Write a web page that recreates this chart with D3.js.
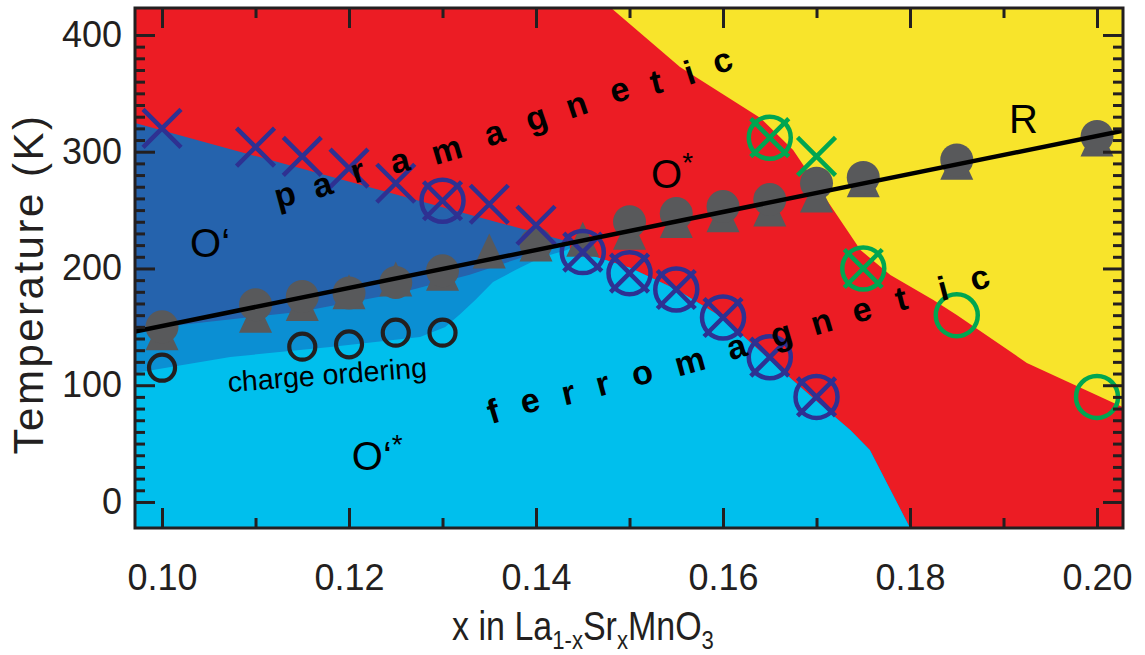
<!DOCTYPE html>
<html>
<head>
<meta charset="utf-8">
<script src="https://cdn.jsdelivr.net/npm/d3@7"></script>
<style>
  body { margin: 0; background: #fff; }
  svg { display: block; font-family: "Liberation Sans", Arial, Helvetica, sans-serif; }
</style>
</head>
<body>
<svg id="chart" width="1145" height="655"></svg>
<script>
// ---- data: x in La(1-x)Sr(x)MnO3 vs temperature (K) ----
const xTicks = [0.10, 0.12, 0.14, 0.16, 0.18, 0.20];
const xMinorTicks = [0.11, 0.13, 0.15, 0.17, 0.19];
const tTicks = [0, 100, 200, 300, 400];

// gray filled circles (upper part of the "bell" symbols)
const grayCircleX = [0.10, 0.11, 0.115, 0.12, 0.125, 0.13, 0.14, 0.15, 0.155, 0.16, 0.165, 0.17, 0.175, 0.185, 0.20];
const grayCircleT = [150, 169, 176, 179, 188, 198, 221, 240, 247, 253, 259, 273, 278, 293, 313];

// gray filled triangles (lower part of the "bell" symbols)
const grayTriX = [0.10, 0.11, 0.115, 0.12, 0.125, 0.13, 0.135, 0.14, 0.145, 0.15, 0.155, 0.16, 0.165, 0.17, 0.175, 0.185, 0.20];
const grayTriT = [140, 155, 165, 175, 186, 191, 210, 216, 220, 226, 236, 241, 246, 258, 271, 286, 306];

// blue crosses
const blueCrossX = [0.10, 0.11, 0.115, 0.12, 0.125, 0.135, 0.14];
const blueCrossT = [320, 304, 296, 286, 273, 255, 237];

// blue crossed circles
const blueCrossCircleX = [0.13, 0.145, 0.15, 0.155, 0.16, 0.165, 0.17];
const blueCrossCircleT = [258, 214, 196, 182, 158, 124, 90];

// green symbols
const greenCrossCircleX = [0.165, 0.175];
const greenCrossCircleT = [312, 200];
const greenCrossX = [0.17];
const greenCrossT = [296];
const greenCircleX = [0.185, 0.20];
const greenCircleT = [160, 90];

// black open circles (charge ordering)
const coCircleX = [0.10, 0.115, 0.12, 0.125, 0.13];
const coCircleT = [115, 133, 135, 145, 145];

// linear fit line (endpoints at the frame)
const fitX = [0.09711, 0.20278];
const fitT = [146, 318];

// phase boundaries [x, T]
const yellowBoundary = [
  [0.1479, 424], [0.1554, 372.6], [0.1640, 328.9], [0.1675, 301.5], [0.1711, 258.7],
  [0.1747, 215.8], [0.1779, 194.4], [0.1825, 173.0], [0.1850, 160.2], [0.1925, 119.1], [0.2028, 81]
];
const darkBlueTop = [[0.0971, 324.6], [0.1436, 222.7]];
const mediumBlueTop = [
  [0.0971, 147.3], [0.1148, 163.0], [0.1255, 179.2], [0.1329, 194.6], [0.1394, 211.8], [0.1436, 222.1]
];
const lightBlueTop = [
  [0.0971, 110.5], [0.1073, 124.2], [0.1180, 132.8], [0.1276, 141.3], [0.1303, 149.9],
  [0.1319, 161.0], [0.1335, 173.0], [0.1354, 188.4], [0.1378, 198.7], [0.1404, 209.0], [0.1433, 215.8]
];
const lightBlueRight = [
  [0.1436, 217], [0.1501, 200.4], [0.1551, 181.6], [0.1600, 157.6], [0.1650, 121.6],
  [0.1701, 85.7], [0.1736, 61.7], [0.1757, 44.5], [0.1800, -22.3]
];

// text annotations
const paraLetters = "paramagnetic".split("");
const paraX = [0.1132, 0.1172, 0.1210, 0.1255, 0.1305, 0.1356, 0.1401, 0.1444, 0.1490, 0.1529, 0.1565, 0.1600];
const paraT = [261.2, 269.8, 281.8, 290.4, 299.6, 314.1, 327.2, 338.3, 351.2, 357.9, 365.7, 376.0];
const ferroLetters = "ferromagnetic".split("");
const ferroX = [0.1355, 0.1394, 0.1435, 0.1472, 0.1514, 0.1565, 0.1615, 0.1663, 0.1706, 0.1749, 0.1791, 0.1836, 0.1875];
const ferroT = [75.4, 84.8, 91.6, 99.4, 108.8, 118.2, 131.0, 142.2, 152.5, 162.7, 172.2, 180.7, 190.1];

const phaseLabels = [
  { text: "O\u2018", sup: "", x: 0.1030, t: 209.9 },
  { text: "O", sup: "*", x: 0.1523, t: 268.9 },
  { text: "O\u2018", sup: "*", x: 0.1203, t: 27.4 },
  { text: "R", sup: "", x: 0.1906, t: 316.1 }
];

// ---- settings ----
const settings = {
  left: 135, right: 1123, top: 8, bottom: 528,
  frameColor: "#231f20",
  red: "#ec1c24", yellow: "#f8e42b",
  darkBlue: "#2563ad", mediumBlue: "#0b8fd3", lightBlue: "#00bfed",
  gray: "#58595b", markerBlue: "#2e3192", green: "#00a651"
};

const svg = d3.select("#chart");

const x = d3.scaleLinear().domain([0.09711, 0.20278]).range([settings.left, settings.right]);
const y = d3.scaleLinear().domain([-22.3, 423.1]).range([settings.bottom, settings.top]);

const zip = (xs, ts) => xs.map((v, i) => ({ x: v, t: ts[i] }));
const polyLine = d3.line().x(d => x(d[0])).y(d => y(d[1]));

// clip everything to the plot frame
svg.append("defs").append("clipPath").attr("id", "plot-clip")
  .append("rect")
  .attr("x", settings.left).attr("y", settings.top)
  .attr("width", settings.right - settings.left)
  .attr("height", settings.bottom - settings.top);

const plot = svg.append("g").attr("clip-path", "url(#plot-clip)");

// ---- phase regions ----
const xLo = -0.05, xHi = 0.5, tLo = -100, tHi = 1000;
plot.append("rect")
  .attr("x", settings.left).attr("y", settings.top)
  .attr("width", settings.right - settings.left)
  .attr("height", settings.bottom - settings.top)
  .attr("fill", settings.red);

plot.append("path")
  .attr("d", polyLine([[yellowBoundary[0][0], tHi], ...yellowBoundary, [xHi, yellowBoundary[yellowBoundary.length - 1][1]], [xHi, tHi]]) + "Z")
  .attr("fill", settings.yellow);

const rightAndBottom = [...lightBlueRight, [lightBlueRight[lightBlueRight.length - 1][0], tLo], [xLo, tLo]];
const withLeftEdge = pts => [[xLo, pts[0][1]], ...pts];

plot.append("path")
  .attr("d", polyLine([...withLeftEdge(darkBlueTop), ...rightAndBottom]) + "Z")
  .attr("fill", settings.darkBlue);
plot.append("path")
  .attr("d", polyLine([...withLeftEdge(mediumBlueTop), ...rightAndBottom]) + "Z")
  .attr("fill", settings.mediumBlue);
plot.append("path")
  .attr("d", polyLine([...withLeftEdge(lightBlueTop), ...rightAndBottom]) + "Z")
  .attr("fill", settings.lightBlue);

// ---- markers ----
const crossPath = s => `M${-s},${-s}L${s},${s}M${-s},${s}L${s},${-s}`;
const triHeight = 35, triWidth = 33;
const triPath = `M0,${-2 * triHeight / 3}L${triWidth / 2},${triHeight / 3}L${-triWidth / 2},${triHeight / 3}Z`;

plot.append("g").selectAll("path")
  .data(zip(grayTriX, grayTriT))
  .join("path")
  .attr("transform", d => `translate(${x(d.x)},${y(d.t)})`)
  .attr("d", triPath)
  .attr("fill", settings.gray);

plot.append("g").selectAll("circle")
  .data(zip(grayCircleX, grayCircleT))
  .join("circle")
  .attr("cx", d => x(d.x)).attr("cy", d => y(d.t))
  .attr("r", 16.5)
  .attr("fill", settings.gray);

function drawCircles(data, color, r, width) {
  plot.append("g").selectAll("circle")
    .data(data)
    .join("circle")
    .attr("cx", d => x(d.x)).attr("cy", d => y(d.t))
    .attr("r", r)
    .attr("fill", "none")
    .attr("stroke", color)
    .attr("stroke-width", width);
}

function drawCrosses(data, color) {
  plot.append("g").selectAll("path")
    .data(data)
    .join("path")
    .attr("transform", d => `translate(${x(d.x)},${y(d.t)})`)
    .attr("d", crossPath(19))
    .attr("fill", "none")
    .attr("stroke", color)
    .attr("stroke-width", 4.5);
}

drawCircles(zip(coCircleX, coCircleT), settings.frameColor, 13, 4.2);

drawCrosses(zip(blueCrossX, blueCrossT), settings.markerBlue);
drawCrosses(zip(blueCrossCircleX, blueCrossCircleT), settings.markerBlue);
drawCircles(zip(blueCrossCircleX, blueCrossCircleT), settings.markerBlue, 21, 4.5);

drawCrosses(zip(greenCrossX, greenCrossT), settings.green);
drawCrosses(zip(greenCrossCircleX, greenCrossCircleT), settings.green);
drawCircles(zip(greenCrossCircleX, greenCrossCircleT), settings.green, 21, 4.5);
drawCircles(zip(greenCircleX, greenCircleT), settings.green, 21, 4.5);

// linear fit
plot.append("path")
  .datum(zip(fitX, fitT))
  .attr("d", d3.line().x(d => x(d.x)).y(d => y(d.t)))
  .attr("fill", "none")
  .attr("stroke", "#000")
  .attr("stroke-width", 4.5);

// ---- text inside the plot ----
function drawSpacedWord(letters, xs, ts) {
  const pts = xs.map((v, i) => [x(v), y(ts[i])]);
  const angle = i => {
    const a = pts[Math.max(0, i - 1)], b = pts[Math.min(pts.length - 1, i + 1)];
    return Math.atan2(b[1] - a[1], b[0] - a[0]) * 180 / Math.PI;
  };
  plot.append("g").selectAll("text")
    .data(letters)
    .join("text")
    .attr("transform", (d, i) => `translate(${pts[i][0]},${pts[i][1]}) rotate(${angle(i)})`)
    .attr("text-anchor", "middle")
    .attr("dy", "0.27em")
    .attr("font-size", 34)
    .attr("font-weight", "bold")
    .attr("fill", "#000")
    .text(d => d);
}

drawSpacedWord(paraLetters, paraX, paraT);
drawSpacedWord(ferroLetters, ferroX, ferroT);

const labels = plot.append("g").selectAll("text")
  .data(phaseLabels)
  .join("text")
  .attr("x", d => x(d.x)).attr("y", d => y(d.t))
  .attr("font-size", 40)
  .attr("fill", "#000");
labels.append("tspan").text(d => d.text);
labels.append("tspan")
  .attr("font-size", 28)
  .attr("dy", -16)
  .text(d => d.sup);

plot.append("text")
  .attr("transform", `translate(${x(0.1071)},${y(94.2)}) rotate(-4.3)`)
  .attr("font-size", 28.5)
  .attr("fill", "#000")
  .text("charge ordering");

// ---- axes ----
const styleAxis = g => {
  g.select(".domain").remove();
  g.selectAll(".tick line").attr("stroke", settings.frameColor).attr("stroke-width", 3);
  g.selectAll(".tick text")
    .attr("font-size", 36)
    .attr("font-family", "Liberation Sans, Arial, sans-serif")
    .attr("fill", settings.frameColor);
};

svg.append("g")
  .attr("transform", `translate(0,${settings.bottom})`)
  .call(d3.axisBottom(x).tickValues(xTicks).tickSize(-20).tickPadding(36).tickFormat(d3.format(".2f")))
  .call(styleAxis);
svg.append("g")
  .attr("transform", `translate(0,${settings.bottom})`)
  .call(d3.axisBottom(x).tickValues(xMinorTicks).tickSize(-10).tickFormat(""))
  .call(styleAxis);
svg.append("g")
  .attr("transform", `translate(0,${settings.top})`)
  .call(d3.axisTop(x).tickValues(xTicks).tickSize(-20).tickFormat(""))
  .call(styleAxis);
svg.append("g")
  .attr("transform", `translate(0,${settings.top})`)
  .call(d3.axisTop(x).tickValues(xMinorTicks).tickSize(-10).tickFormat(""))
  .call(styleAxis);

const tMinor = d3.range(0, 401, 10).filter(v => v % 100 !== 0);
svg.append("g")
  .attr("transform", `translate(${settings.left},0)`)
  .call(d3.axisLeft(y).tickValues(tTicks).tickSize(-20).tickPadding(13))
  .call(styleAxis);
svg.append("g")
  .attr("transform", `translate(${settings.left},0)`)
  .call(d3.axisLeft(y).tickValues(tMinor).tickSize(-10).tickFormat(""))
  .call(styleAxis);
svg.append("g")
  .attr("transform", `translate(${settings.right},0)`)
  .call(d3.axisRight(y).tickValues(tTicks).tickSize(-20).tickFormat(""))
  .call(styleAxis);
svg.append("g")
  .attr("transform", `translate(${settings.right},0)`)
  .call(d3.axisRight(y).tickValues(tMinor).tickSize(-10).tickFormat(""))
  .call(styleAxis);

// frame
svg.append("rect")
  .attr("x", settings.left).attr("y", settings.top)
  .attr("width", settings.right - settings.left)
  .attr("height", settings.bottom - settings.top)
  .attr("fill", "none")
  .attr("stroke", settings.frameColor)
  .attr("stroke-width", 3);

// axis titles
svg.append("text")
  .attr("transform", `translate(43,${(108 + 460) / 2}) rotate(-90)`)
  .attr("text-anchor", "middle")
  .attr("font-size", 42)
  .attr("letter-spacing", 2.5)
  .attr("fill", "#231f20")
  .text("Temperature (K)");

// condensed look of the original lettering
const xTitle = svg.append("text")
  .attr("transform", "translate(583,640) scale(0.85,1)")
  .attr("text-anchor", "middle")
  .attr("font-size", 40)
  .attr("fill", "#231f20");
[["x in La", 0], ["1-x", 1], ["Sr", 0], ["x", 1], ["MnO", 0], ["3", 1]].forEach(([s, sub], i, arr) => {
  const prevSub = i > 0 && arr[i - 1][1];
  xTitle.append("tspan")
    .attr("font-size", sub ? 26 : 40)
    .attr("dy", sub ? 9 : (prevSub ? -9 : 0))
    .text(s);
});
</script>
</body>
</html>
